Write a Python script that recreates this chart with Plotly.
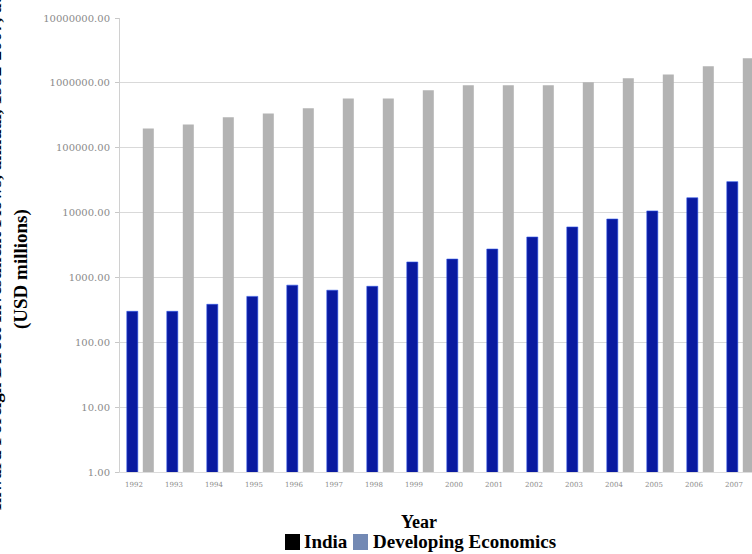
import plotly.graph_objects as go

# Inward FDI flows, USD millions
years = ["1992", "1993", "1994", "1995", "1996", "1997", "1998", "1999",
         "2000", "2001", "2002", "2003", "2004", "2005", "2006", "2007"]
india = [300, 300, 385, 510, 760, 635, 730, 1730,
         1920, 2740, 4200, 6000, 7950, 10600, 16900, 30000]
developing = [198000, 228000, 294000, 336000, 406000, 576000, 576000, 768000,
              915000, 915000, 915000, 1020000, 1180000, 1350000, 1810000, 2400000]

y_tick_values = [1, 10, 100, 1000, 10000, 100000, 1000000, 10000000]
y_tick_labels = ["1.00", "10.00", "100.00", "1000.00", "10000.00",
                 "100000.00", "1000000.00", "10000000.00"]

legend_names = ["India", "Developing Economics"]
legend_colors = ["#000000", "#7389b4"]

W, H = 752, 554
ML, MR, MT, MB = 120, 0, 18, 82
PW, PH = W - ML - MR, H - MT - MB

def px_to_paper_x(px):
    return (px - ML) / PW

def px_to_paper_y(py):
    return (H - MB - py) / PH

serif_bold = dict(family="Liberation Serif", color="black")

fig = go.Figure()
fig.add_trace(go.Bar(
    x=years, y=india, name=legend_names[0],
    offset=-0.33, width=0.275,
    marker=dict(color="#0a1aa0", line=dict(width=0.6, color="#2f55e8")),
))
fig.add_trace(go.Bar(
    x=years, y=developing, name=legend_names[1],
    offset=0.07, width=0.275,
    marker=dict(color="#b3b3b3", line=dict(width=0)),
))

annotations = [
    dict(
        text=("<b>Inward Foreign Direct Investment Flows, annual, 1992-2007, "
              "at current prices</b>"),
        textangle=-90, showarrow=False,
        xref="paper", yref="paper",
        x=px_to_paper_x(-6.5), y=px_to_paper_y(195),
        xanchor="center", yanchor="middle",
        font=dict(size=19, **serif_bold),
    ),
    dict(
        text="<b>(USD millions)</b>",
        textangle=-90, showarrow=False,
        xref="paper", yref="paper",
        x=px_to_paper_x(21), y=px_to_paper_y(269),
        xanchor="center", yanchor="middle",
        font=dict(size=19, **serif_bold),
    ),
    dict(
        text="<b>Year</b>",
        showarrow=False,
        xref="paper", yref="paper",
        x=px_to_paper_x(419), y=px_to_paper_y(522),
        xanchor="center", yanchor="middle",
        font=dict(size=18, **serif_bold),
    ),
]

# legend row: colour swatch followed by its bold label
legend_layout = [(292, 302), (360, 371)]
for name, color, (sw_x, tx_x) in zip(legend_names, legend_colors, legend_layout):
    annotations.append(dict(
        text=" ", showarrow=False,
        xref="paper", yref="paper",
        x=px_to_paper_x(sw_x), y=px_to_paper_y(542),
        xanchor="center", yanchor="middle",
        width=15, height=16, bgcolor=color, borderpad=0, borderwidth=0,
        font=dict(size=10, color=color),
    ))
    annotations.append(dict(
        text=f"<b>{name}</b>", showarrow=False,
        xref="paper", yref="paper",
        x=px_to_paper_x(tx_x), y=px_to_paper_y(541),
        xanchor="left", yanchor="middle",
        font=dict(size=19, **serif_bold),
    ))

fig.update_layout(
    width=W, height=H,
    margin=dict(l=ML, r=MR, t=MT, b=MB, pad=0),
    paper_bgcolor="white", plot_bgcolor="white",
    barmode="overlay",
    showlegend=False,
    xaxis=dict(
        type="category",
        range=[-0.5, 15.3],
        showgrid=False,
        showline=True, linecolor="#dcdcdc", linewidth=1,
        ticks="",
        tickfont=dict(family="DejaVu Serif", size=7, color="#8a8a8a"),
        ticklabelstandoff=6,
        ticklabelshift=-6,
    ),
    yaxis=dict(
        type="log",
        range=[0, 7],
        tickvals=y_tick_values,
        ticktext=y_tick_labels,
        showgrid=True, gridcolor="#d9d9d9", gridwidth=1,
        showline=True, linecolor="#d0d0d0", linewidth=1,
        ticks="outside", ticklen=4, tickcolor="#c8c8c8",
        tickfont=dict(family="DejaVu Serif", size=10, color="#8a8a8a"),
        ticklabelstandoff=3,
        zeroline=False,
    ),
    annotations=annotations,
)

fig.write_html("out.html")
